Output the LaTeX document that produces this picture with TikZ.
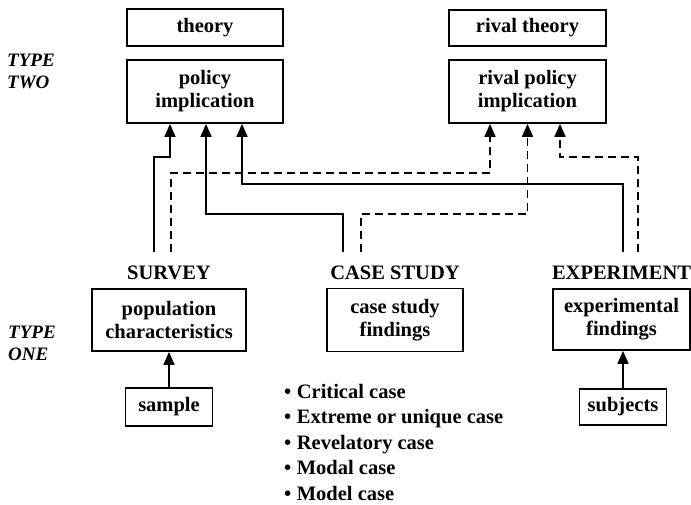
\documentclass[tikz,border=0pt]{standalone}
\usepackage{fontspec}
\setmainfont{Liberation Serif}
\usetikzlibrary{arrows.meta,calc}
\newcommand{\mybul}{•\hspace{5.5pt}}
\begin{document}
\begin{tikzpicture}[x=1pt,y=-1pt,
  txt/.style={font=\bfseries\fontsize{20.5pt}{23pt}\selectfont},
  box/.style={txt,draw,line width=1.7pt,inner sep=0pt,align=center},
  lbl/.style={txt,inner sep=0pt},
  typ/.style={inner sep=0pt,align=left,anchor=west,font=\bfseries\itshape\fontsize{19pt}{22pt}\selectfont},
  itm/.style={txt,inner sep=0pt,anchor=base west},
  link/.style={line width=1.7pt,-{Triangle[width=11pt,length=13pt]}},
  dlink/.style={link,dash pattern=on 8pt off 5pt}]
\useasboundingbox (0,0) rectangle (691,504);
% type two
\node[box,minimum width=156pt,minimum height=37pt] (th) at (205,27.5) {theory};
\node[box,minimum width=156pt,minimum height=63pt] (pol) at (205,91.5) {policy\\implication};
\node[box,minimum width=157pt,minimum height=36pt] (rth) at (527.5,28) {rival theory};
\node[box,minimum width=157pt,minimum height=63pt] (rpol) at (527.5,91.5) {rival policy\\implication};
\node[typ] (t2) at (7,71.5) {TYPE\\TWO};
% type one
\node[typ] (t1) at (8,343.5) {TYPE\\ONE};
\node[lbl] (sv) at (169,273) {SURVEY};
\node[lbl] (cs) at (395,273) {CASE STUDY};
\node[lbl] (ex) at (621.5,273) {EXPERIMENT};
\node[box,minimum width=154pt,minimum height=62pt] (pop) at (169,320) {population\\characteristics};
\node[box,minimum width=136pt,minimum height=63pt] (csf) at (395,320) {case study\\findings};
\node[box,minimum width=137pt,minimum height=61pt] (exf) at (621.5,319.5) {experimental\\findings};
\node[box,minimum width=87pt,minimum height=38pt] (smp) at (169,407) {sample};
\node[box,minimum width=87pt,minimum height=36pt] (sub) at (623,407) {subjects};
% bullets
\node[itm] (b1) at (284,398) {\mybul Critical case};
\node[itm] (b2) at (284,423.5) {\mybul Extreme or unique case};
\node[itm] (b3) at (284,449) {\mybul Revelatory case};
\node[itm] (b4) at (284,474.5) {\mybul Modal case};
\node[itm] (b5) at (284,500) {\mybul Model case};
% connector ends
\coordinate (sv1) at (154,252);
\coordinate (sv2) at (171,252);
\coordinate (cs1) at (343,252);
\coordinate (cs2) at (361,252);
\coordinate (ex1) at (623,252);
\coordinate (ex2) at (638,252);
\coordinate (p1) at ([xshift=-35pt]pol.south);
\coordinate (p2) at ([xshift=1pt]pol.south);
\coordinate (p3) at ([xshift=37pt]pol.south);
\coordinate (r1) at ([xshift=-37.5pt]rpol.south);
\coordinate (r2) at (rpol.south);
\coordinate (r3) at ([xshift=32.5pt]rpol.south);
% connectors
\draw[link] (sv1) |- ($(p1)+(0,33)$) -- (p1);
\draw[dlink] (sv2) |- ($(r1)+(0,49)$) -- (r1);
\draw[link] (cs1) |- ($(p2)+(0,90)$) -- (p2);
\draw[dlink] (cs2) |- ($(r2)+(0,90)$) -- (r2);
\draw[link] (ex1) |- ($(p3)+(0,60)$) -- (p3);
\draw[dlink] (ex2) |- ($(r3)+(0,33)$) -- (r3);
\draw[link] (smp.north) -- (smp.north |- pop.south);
\draw[link] (sub.north) -- (sub.north |- exf.south);
\end{tikzpicture}
\end{document}
